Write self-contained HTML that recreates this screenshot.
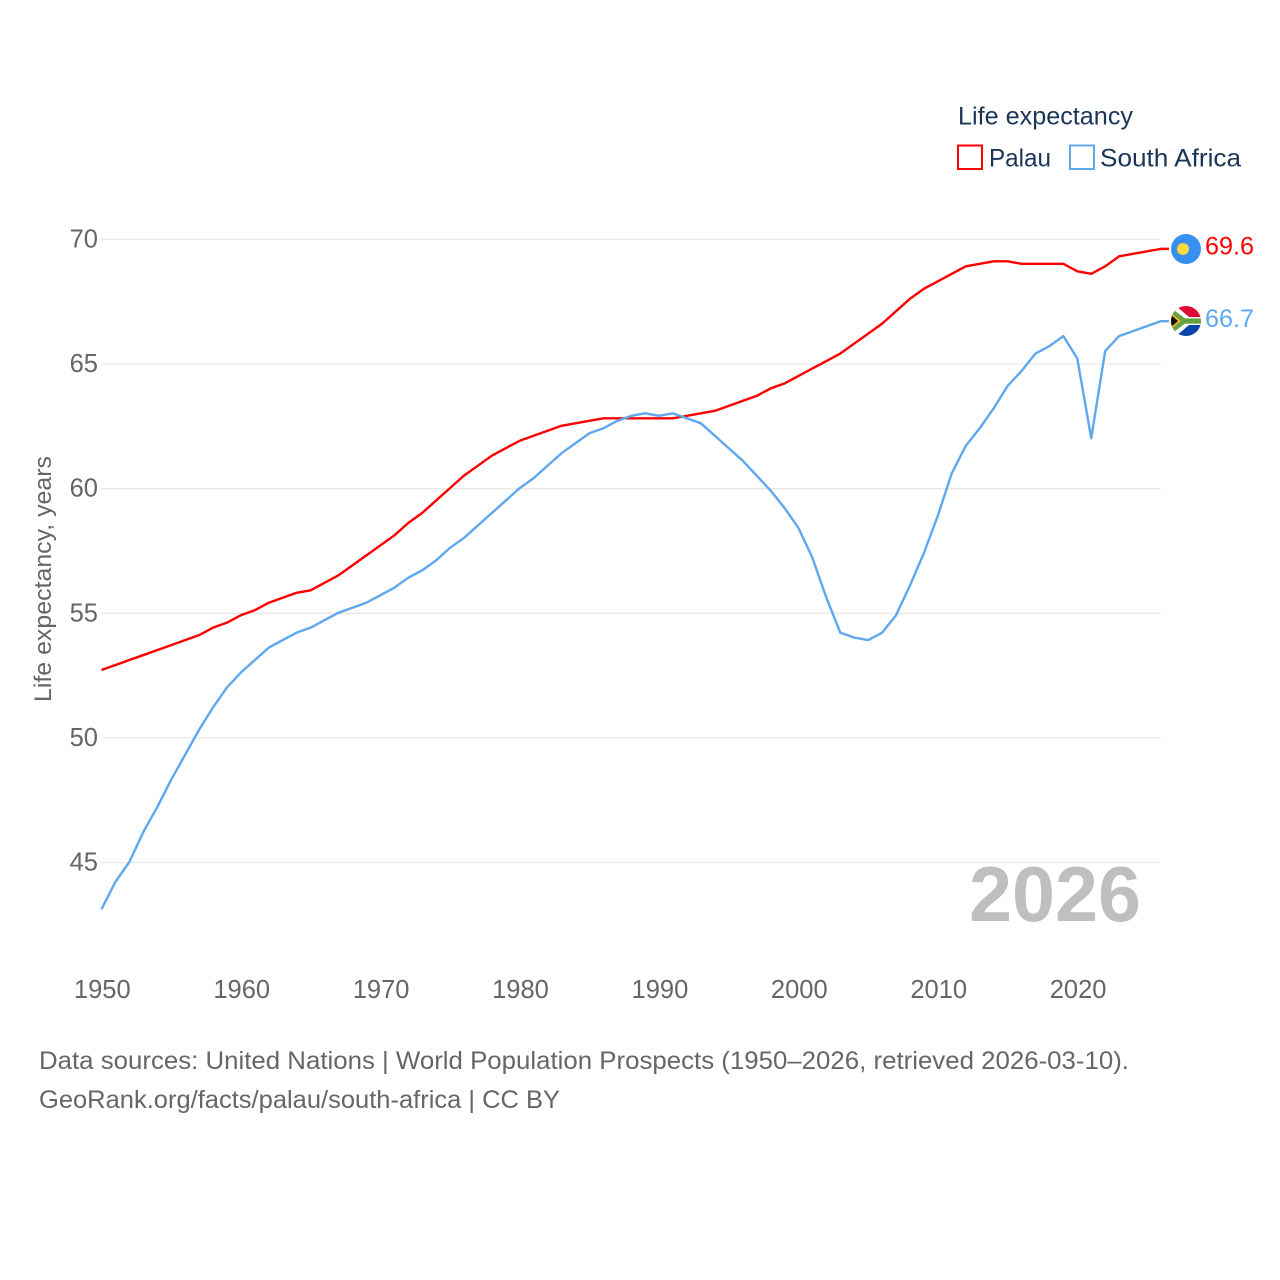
<!DOCTYPE html>
<html lang="en">
<head>
<meta charset="utf-8">
<title>Life expectancy: Palau and South Africa</title>
<style>
html,body{margin:0;padding:0;background:#fff;width:1280px;height:1280px;overflow:hidden}
svg{display:block}
text{font-family:"Liberation Sans",sans-serif}
</style>
</head>
<body>
<svg id="chart" xmlns="http://www.w3.org/2000/svg" width="1280" height="1280" viewBox="0 0 1280 1280">
  <defs>
    <clipPath id="flag-clip"><circle cx="0" cy="0" r="15"/></clipPath>
  </defs>
  <g id="grid"></g>
  <g id="yticks"></g>
  <g id="xticks"></g>
  <text transform="translate(51,579) rotate(-90)" text-anchor="middle" font-size="24.5" fill="#666" textLength="246" lengthAdjust="spacingAndGlyphs">Life expectancy, years</text>
  <text x="969" y="921" font-size="78" font-weight="700" fill="#bfbfbf" textLength="172" lengthAdjust="spacingAndGlyphs">2026</text>
  <g id="series" transform="translate(0,-0.6)"></g>

  <g id="flag-palau">
    <circle cx="0" cy="0" r="15" fill="#3790f0"/>
    <circle cx="-3" cy="0" r="6" fill="#ffd83d"/>
  </g>
  <g id="flag-za" clip-path="url(#flag-clip)">
    <rect x="-15" y="-15" width="30" height="30" fill="#fff"/>
    <rect x="-15" y="-15" width="30" height="13" fill="#de0a32"/>
    <rect x="-15" y="2" width="30" height="13" fill="#0a46a8"/>
    <polygon points="-15,-15 -10,-15 3,-4 15,-4 15,4 3,4 -10,15 -15,15" fill="#fff"/>
    <polygon points="-15,-13 -1,-2.6 15,-2.6 15,2.6 -1,2.6 -15,13" fill="#66a040"/>
    <polygon points="-15,-8 -5,0 -15,8" fill="#f4b81c"/>
    <polygon points="-15,-6 -8,0 -15,6" fill="#111"/>
  </g>
  <text id="label-palau" x="1205" y="255" font-size="25" fill="#ff0000" textLength="49" lengthAdjust="spacingAndGlyphs"></text>
  <text id="label-za" x="1205" y="328" font-size="25" fill="#5fa8ee" textLength="49" lengthAdjust="spacingAndGlyphs"></text>

  <g>
    <text x="958" y="124.500" font-size="25" fill="#1a3557" textLength="175" lengthAdjust="spacingAndGlyphs">Life expectancy</text>
    <rect x="958" y="145.500" width="24" height="23.500" fill="#fff" stroke="#ff0000" stroke-width="2"/>
    <text x="989" y="166.500" font-size="25" fill="#1a3557" textLength="62" lengthAdjust="spacingAndGlyphs">Palau</text>
    <rect x="1070" y="145.500" width="24" height="23.500" fill="#fff" stroke="#5fa8ee" stroke-width="2"/>
    <text x="1100" y="166.500" font-size="25" fill="#1a3557" textLength="141" lengthAdjust="spacingAndGlyphs">South Africa</text>
  </g>

  <g>
    <text x="39" y="1069" font-size="25" fill="#666" textLength="1090" lengthAdjust="spacingAndGlyphs">Data sources: United Nations | World Population Prospects (1950–2026, retrieved 2026-03-10).</text>
    <text x="39" y="1108" font-size="25" fill="#666" textLength="521" lengthAdjust="spacingAndGlyphs">GeoRank.org/facts/palau/south-africa | CC BY</text>
  </g>
</svg>
<script>
const startYear = 1950;
const yTickValues = [45, 50, 55, 60, 65, 70];
const xTickValues = [1950, 1960, 1970, 1980, 1990, 2000, 2010, 2020];
const palauValues = [52.7,52.9,53.1,53.3,53.5,53.7,53.9,54.1,54.4,54.6,54.9,55.1,55.4,55.6,55.8,55.9,56.2,56.5,56.9,57.3,57.7,58.1,58.6,59.0,59.5,60.0,60.5,60.9,61.3,61.6,61.9,62.1,62.3,62.5,62.6,62.7,62.8,62.8,62.8,62.8,62.8,62.8,62.9,63.0,63.1,63.3,63.5,63.7,64.0,64.2,64.5,64.8,65.1,65.4,65.8,66.2,66.6,67.1,67.6,68.0,68.3,68.6,68.9,69.0,69.1,69.1,69.0,69.0,69.0,69.0,68.7,68.6,68.9,69.3,69.4,69.5,69.6];
const southAfricaValues = [43.1,44.2,45.0,46.2,47.2,48.3,49.3,50.3,51.2,52.0,52.6,53.1,53.6,53.9,54.2,54.4,54.7,55.0,55.2,55.4,55.7,56.0,56.4,56.7,57.1,57.6,58.0,58.5,59.0,59.5,60.0,60.4,60.9,61.4,61.8,62.2,62.4,62.7,62.9,63.0,62.9,63.0,62.8,62.6,62.1,61.6,61.1,60.5,59.9,59.2,58.4,57.2,55.6,54.2,54.0,53.9,54.2,54.9,56.1,57.4,58.9,60.6,61.7,62.4,63.2,64.1,64.7,65.4,65.7,66.1,65.2,62.0,65.5,66.1,66.3,66.5,66.7];

const NS = 'http://www.w3.org/2000/svg';
const xScale = year => 101.5 + (year - 1950) * 13.94;
const yScale = v => 239.5 + (70 - v) * 24.92;
const plotRight = xScale(2026);

function svgEl(tag, attrs, parent) {
  const el = document.createElementNS(NS, tag);
  for (const k in attrs) el.setAttribute(k, attrs[k]);
  parent.appendChild(el);
  return el;
}

const gridG = document.getElementById('grid');
const yG = document.getElementById('yticks');
yTickValues.forEach(v => {
  const line = svgEl('line', {x1: 101, x2: plotRight, y1: yScale(v), y2: yScale(v), stroke: '#e8e8e8', 'stroke-width': 1.3}, gridG);
  
  
  const t = svgEl('text', {x: 98, y: yScale(v) + 8, 'text-anchor': 'end', 'font-size': 25.5, fill: '#666'}, yG);
  
  
  t.textContent = v;
});

const xG = document.getElementById('xticks');
xTickValues.forEach(y => {
  const t = svgEl('text', {x: xScale(y) + 0.8, y: 998, 'text-anchor': 'middle', 'font-size': 25.5, fill: '#666'}, xG);
  
  
  t.textContent = y;
});

function linePoints(values) {
  const pts = values.map((v, i) => xScale(startYear + i).toFixed(2) + ',' + yScale(v).toFixed(2));
  pts.push((plotRight + 8).toFixed(2) + ',' + yScale(values[values.length - 1]).toFixed(2));
  return pts.join(' ');
}

const seriesG = document.getElementById('series');
const palauLine = svgEl('polyline', {points: linePoints(palauValues), fill: 'none', stroke: '#ff0000', 'stroke-width': 2.4, 'stroke-linejoin': 'round'}, seriesG);


const zaLine = svgEl('polyline', {points: linePoints(southAfricaValues), fill: 'none', stroke: '#5fa8ee', 'stroke-width': 2.4, 'stroke-linejoin': 'round'}, seriesG);



const lastPalau = palauValues[palauValues.length - 1];
const lastZa = southAfricaValues[southAfricaValues.length - 1];
document.getElementById('flag-palau').setAttribute('transform', 'translate(1186,' + (yScale(lastPalau) - 0.5) + ')');
document.getElementById('flag-za').setAttribute('transform', 'translate(1186,' + (yScale(lastZa) - 0.7) + ')');
const lp = document.getElementById('label-palau');
lp.textContent = lastPalau.toFixed(1);
lp.setAttribute('y', yScale(lastPalau) + 5);
const lz = document.getElementById('label-za');
lz.textContent = lastZa.toFixed(1);
lz.setAttribute('y', yScale(lastZa) + 5.5);
</script>
</body>
</html>
